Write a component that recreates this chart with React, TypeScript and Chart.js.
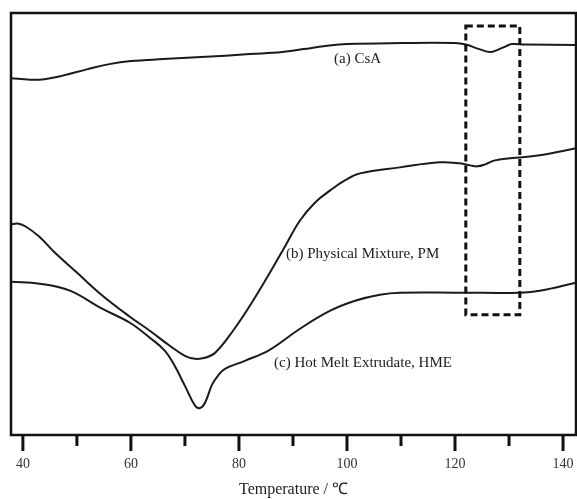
import React, { useEffect, useRef } from "react";
import { Chart, registerables } from "chart.js";

Chart.register(...registerables);

// Temperature (°C) and heat-flow signal (arbitrary units, endo down)
const tempA = [37.8, 41.3, 44, 47, 52, 56, 60, 66, 73, 82, 88, 92, 96, 100, 110, 120, 122, 124.5, 126.5, 128, 129.5, 130.5, 133, 142.4];
const flowA = [356, 354.5, 355, 358, 365, 370, 373, 375, 377, 380, 382, 385, 388, 390, 391, 391, 389.5, 385, 382, 384.5, 388, 390, 389.5, 389];

const tempB = [37.8, 39, 40.5, 43, 45.9, 50, 54.3, 59.8, 63.5, 67.2, 70, 71.9, 73.7, 75.6, 78.9, 82.6, 88.1, 91.3, 94.1, 96.9, 99.6, 102.4, 109.8, 117.2, 120.9, 122.8, 124.1, 125.6, 127.4, 130.2, 135.7, 142.4];
const flowB = [210, 211, 208, 198, 182, 162, 141, 118, 104, 89, 79, 76, 77, 82, 104, 134, 184, 214, 232, 244, 254, 261, 267, 272, 271, 269, 268, 270, 274, 276, 279, 286];

const tempC = [37.8, 43.1, 48.7, 54.3, 59.8, 63.5, 66.3, 68.1, 70, 71.9, 72.8, 73.7, 75, 76.1, 77.4, 81.1, 85.7, 91.3, 96.9, 101.5, 106.1, 109.8, 120.9, 132, 135.7, 138.5, 142.4];
const flowC = [153, 151, 144, 127, 112, 97, 84, 69, 49, 29, 27, 32, 50, 59, 66, 74, 85, 106, 124, 134, 140, 142, 142, 142, 144, 147, 152];

const curveLabels = ["(a) CsA", "(b) Physical Mixture, PM", "(c) Hot Melt Extrudate, HME"];
const labelTemps = [97.6, 88.7, 86.5];
const labelFlows = [375, 181, 72];

const xTicks = [40, 50, 60, 70, 80, 90, 100, 110, 120, 130, 140];
const boxTemps = [122, 132];
const boxFlows = [408, 120];

const xMin = 37.8;
const xMax = 142.4;
const yMin = 0;
const yMax = 421;

const toPts = (xs: number[], ys: number[]) => xs.map((x, i) => ({ x, y: ys[i] }));

const overlay = {
  id: "overlay",
  afterDraw(chart: any) {
    const { ctx, chartArea, scales } = chart;
    const xs = scales.x;
    const ys = scales.y;
    ctx.save();
    // frame
    ctx.strokeStyle = "#111";
    ctx.lineWidth = 2.5;
    ctx.strokeRect(chartArea.left, chartArea.top, chartArea.right - chartArea.left, chartArea.bottom - chartArea.top);
    // ticks
    ctx.lineWidth = 3;
    xTicks.forEach((v) => {
      const px = xs.getPixelForValue(v);
      const len = v % 20 === 0 ? 16 : 11;
      ctx.beginPath();
      ctx.moveTo(px, chartArea.bottom);
      ctx.lineTo(px, chartArea.bottom + len);
      ctx.stroke();
    });
    // dashed box
    const bx1 = xs.getPixelForValue(boxTemps[0]);
    const bx2 = xs.getPixelForValue(boxTemps[1]);
    const by1 = ys.getPixelForValue(boxFlows[0]);
    const by2 = ys.getPixelForValue(boxFlows[1]);
    ctx.setLineDash([7, 4]);
    ctx.lineWidth = 3;
    ctx.strokeStyle = "#111";
    ctx.strokeRect(bx1, by1, bx2 - bx1, by2 - by1);
    ctx.setLineDash([]);
    // curve labels
    ctx.fillStyle = "#222";
    ctx.font = "15px 'Liberation Serif', 'Times New Roman', serif";
    ctx.textAlign = "left";
    ctx.textBaseline = "middle";
    curveLabels.forEach((t, i) => {
      ctx.fillText(t, xs.getPixelForValue(labelTemps[i]), ys.getPixelForValue(labelFlows[i]));
    });
    ctx.restore();
  },
};

export default function App() {
  const ref = useRef<HTMLCanvasElement | null>(null);
  useEffect(() => {
    if (!ref.current) return;
    const line = (data: { x: number; y: number }[]) => ({
      data,
      showLine: true,
      borderColor: "#1a1a1a",
      borderWidth: 2,
      pointRadius: 0,
      fill: false,
      tension: 0.4,
    });
    const chart = new Chart(ref.current, {
      type: "scatter",
      data: {
        datasets: [line(toPts(tempA, flowA)), line(toPts(tempB, flowB)), line(toPts(tempC, flowC))],
      },
      options: {
        animation: false,
        responsive: false,
        maintainAspectRatio: false,
        layout: { padding: { left: 11, right: 1, top: 13, bottom: 0 } },
        plugins: { legend: { display: false }, tooltip: { enabled: false } },
        scales: {
          x: {
            type: "linear",
            min: xMin,
            max: xMax,
            afterBuildTicks: (scale: any) => {
              scale.ticks = xTicks.map((v) => ({ value: v }));
            },
            grid: { display: true, drawOnChartArea: false, drawTicks: true, tickLength: 21, color: "rgba(0,0,0,0)" },
            border: { display: false },
            ticks: {
              autoSkip: false,
              maxRotation: 0,
              padding: 0,
              color: "#333",
              font: { family: "'Liberation Serif', serif", size: 14 },
              callback: (v: any) => (Number(v) % 20 === 0 ? String(v) : ""),
            },
            title: {
              display: true,
              text: "Temperature / ℃",
              color: "#222",
              padding: { top: 7, bottom: 0 },
              font: { family: "'Liberation Serif', serif", size: 16 },
            },
          },
          y: { type: "linear", display: false, min: yMin, max: yMax },
        },
      },
      plugins: [overlay],
    });
    return () => chart.destroy();
  }, []);
  return (
    <div style={{ position: "fixed", left: 0, top: 0, width: 577, height: 499, background: "#fff" }}>
      <canvas ref={ref} width={577} height={499} style={{ width: 577, height: 499 }} />
    </div>
  );
}
